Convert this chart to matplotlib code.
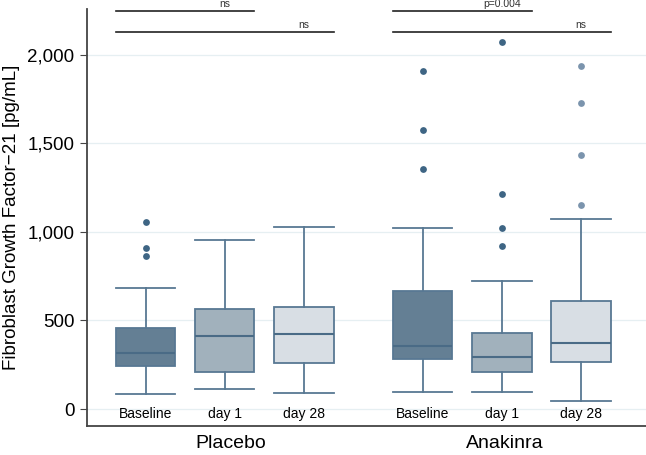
import numpy as np
import matplotlib.pyplot as plt

plt.rcParams['font.family'] = ['Liberation Sans', 'DejaVu Sans']

# box statistics (pg/mL)
labels = ['Baseline', 'day 1', 'day 28', 'Baseline', 'day 1', 'day 28']
groups = ['Placebo', 'Anakinra']
whislo = [86, 111, 88, 98, 98, 45]
q1 = [244, 209, 260, 280, 211, 265]
med = [318, 410, 421, 354, 295, 372]
q3 = [455, 566, 577, 664, 427, 608]
whishi = [681, 955, 1029, 1020, 722, 1071]
fliers = [
    [865, 907, 1057],
    [],
    [],
    [1354, 1573, 1906],
    [920, 1020, 1213, 2069],
    [1151, 1433, 1729, 1934],
]

# significance brackets: (first box, last box, level, text)
brackets = [(0, 1, 2244, 'ns'), (0, 2, 2126, 'ns'),
            (3, 4, 2244, 'p=0.004'), (3, 5, 2126, 'ns')]

pos = np.array([1, 2, 3, 4.5, 5.5, 6.5])
fills = ['#647f94', '#a1b1bc', '#d8dee4'] * 2
flier_cols = ['#3e6584', '#3e6584', '#7b94ad'] * 2
edge = '#587893'
bw = 0.75

fig = plt.figure(figsize=(6.46, 4.55), dpi=100)
ax = fig.add_axes([87 / 646, 1 - 425.7 / 455, 1 - 87 / 646 + 0.01, (425.7 - 9) / 455])

stats = []
for i in range(6):
    stats.append(dict(whislo=whislo[i], q1=q1[i], med=med[i], q3=q3[i],
                      whishi=whishi[i], fliers=fliers[i]))

bp = ax.bxp(stats, positions=pos, widths=bw, patch_artist=True,
            showfliers=False,
            boxprops=dict(edgecolor=edge, linewidth=1.3),
            medianprops=dict(color='#4a6b86', linewidth=1.5),
            whiskerprops=dict(color=edge, linewidth=1.3),
            capprops=dict(color=edge, linewidth=1.3),
            capwidths=bw)
for patch, c in zip(bp['boxes'], fills):
    patch.set_facecolor(c)

for i in range(6):
    f = fliers[i]
    ax.scatter([pos[i]] * len(f), f, s=24, color=flier_cols[i], zorder=3, linewidths=0)

for a, b, lev, txt in brackets:
    ax.plot([pos[a] - bw / 2, pos[b] + bw / 2], [lev, lev], color='#222222', lw=1.2, clip_on=False)
    ax.text(pos[b], lev + 14, txt, ha='center', va='bottom', fontsize=7.5, color='#333333')

for p, l in zip(pos, labels):
    ax.text(p, -28, l, ha='center', va='center', fontsize=10)

ax.text(2.07, -195, groups[0], ha='center', va='center', fontsize=14, clip_on=False)
ax.text(5.53, -195, groups[1], ha='center', va='center', fontsize=14, clip_on=False)

ax.set_xlim(0.26, 7.4)
ax.set_ylim(-94, 2257)
yt = [0, 500, 1000, 1500, 2000]
ax.set_yticks(yt)
ax.set_yticklabels(['{:,}'.format(v) for v in yt], fontsize=13.5)
ax.set_xticks([])
ax.yaxis.grid(True, color='#e6eff2', linewidth=0.9)
ax.set_axisbelow(True)
for s in ['top', 'right']:
    ax.spines[s].set_visible(False)
ax.spines['left'].set_color('#444444')
ax.spines['bottom'].set_color('#444444')
ax.spines['left'].set_linewidth(1.3)
ax.spines['bottom'].set_linewidth(1.3)
ax.tick_params(axis='y', length=5, color='#444444', pad=4)
ax.set_ylabel('Fibroblast Growth Factor\u221221 [pg/mL]', fontsize=13.5, labelpad=5)

fig.savefig('out.png', dpi=100)
